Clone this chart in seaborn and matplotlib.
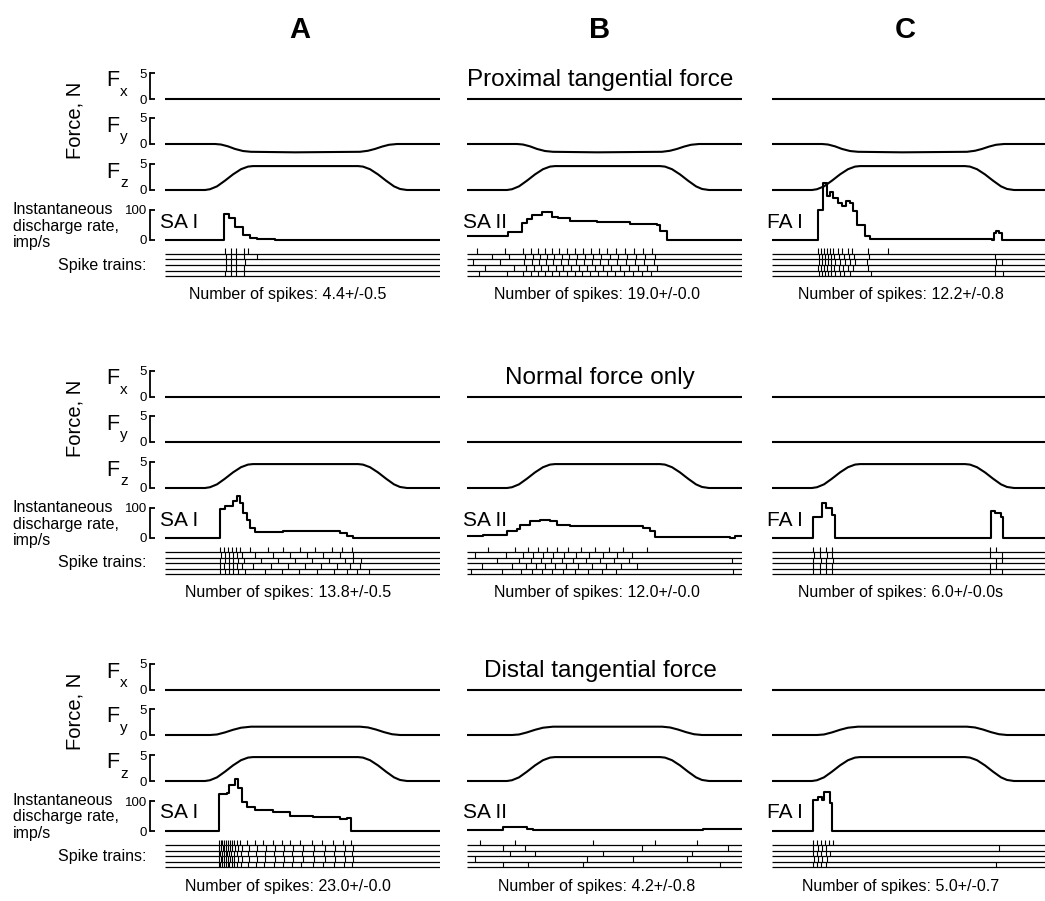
import matplotlib
matplotlib.use('Agg')
import matplotlib.pyplot as plt
import seaborn as sns

W, H = 1045, 901

COLUMNS = ['A', 'B', 'C']
CONDITIONS = ['Proximal tangential force', 'Normal force only', 'Distal tangential force']
UNITS = ['SA I', 'SA II', 'FA I']
SPIKE_COUNTS = [['4.4+/-0.5', '19.0+/-0.0', '12.2+/-0.8'],
                ['13.8+/-0.5', '12.0+/-0.0', '6.0+/-0.0s'],
                ['23.0+/-0.0', '4.2+/-0.8', '5.0+/-0.7']]

# force traces, N against time (ms)
FLAT_T = [0, 2750]
FLAT = [0, 0]
FZ_T = [0, 400, 450, 520, 600, 680, 760, 830, 880, 1930, 1980, 2050, 2130, 2210, 2290, 2350, 2420, 2750]
FZ = [0, 0, 0.15, 0.7, 1.8, 3.0, 4.0, 4.5, 4.6, 4.6, 4.5, 4.0, 3.0, 1.8, 0.7, 0.2, 0, 0]
FY_PROX_T = [0, 500, 560, 630, 700, 780, 860, 1300, 1950, 2030, 2100, 2170, 2240, 2320, 2750]
FY_PROX = [0, 0, -0.1, -0.45, -0.95, -1.35, -1.5, -1.6, -1.5, -1.3, -0.95, -0.5, -0.15, 0, 0]
FY_DIST_T = [0, 450, 520, 600, 680, 760, 860, 1950, 2030, 2110, 2190, 2270, 2350, 2750]
FY_DIST = [0, 0, 0.1, 0.5, 1.0, 1.4, 1.6, 1.6, 1.45, 1.05, 0.55, 0.15, 0, 0]

# instantaneous discharge rate, imp/s (step traces)
RATE_A1_T = [0, 590, 640, 700, 780, 850, 920, 1100, 2750]
RATE_A1 = [0, 87, 73, 43, 17, 7, 3, 0, 0]
RATE_B1_T = [0, 410, 550, 600, 650, 750, 850, 910, 1030, 1300, 1630, 1900, 1930, 2000, 2750]
RATE_B1 = [12, 27, 57, 70, 83, 92, 78, 72, 62, 60, 55, 50, 30, 0, 0]
RATE_C1_T = [0, 460, 510, 550, 580, 610, 660, 700, 740, 780, 810, 850, 930, 980, 2200, 2220, 2240, 2270, 2300, 2750]
RATE_C1 = [0, 100, 189, 146, 160, 139, 122, 112, 130, 122, 96, 49, 12, 2, 0, 22, 30, 25, 0, 0]

RATE_A2_T = [0, 550, 600, 680, 720, 750, 780, 820, 850, 900, 1080, 1180, 1750, 1820, 1880, 2750]
RATE_A2 = [0, 97, 107, 122, 141, 118, 84, 61, 34, 20, 20, 22, 17, 8, 0, 0]
RATE_B2_T = [0, 160, 400, 500, 530, 630, 730, 830, 900, 1030, 1760, 1830, 1880, 2630, 2680, 2750]
RATE_B2 = [6, 10, 22, 31, 44, 56, 59, 56, 44, 39, 33, 22, 2, 0, 8, 8]
RATE_C2_T = [0, 410, 500, 540, 600, 630, 2190, 2230, 2290, 2310, 2750]
RATE_C2 = [0, 69, 117, 100, 78, 0, 91, 83, 70, 0, 0]

RATE_A3_T = [0, 540, 620, 640, 700, 730, 770, 820, 900, 1080, 1250, 1480, 1750, 1820, 1860, 2750]
RATE_A3 = [0, 123, 127, 153, 172, 142, 98, 81, 70, 65, 50, 46, 39, 42, 0, 0]
RATE_B3_T = [0, 360, 460, 600, 660, 2230, 2360, 2750]
RATE_B3 = [4, 12, 15, 7, 2, 5, 8, 8]
RATE_C3_T = [0, 410, 460, 500, 520, 580, 600, 2750]
RATE_C3 = [0, 103, 114, 105, 131, 95, 0, 0]

# spike times (ms), five trials per panel, top trial first
SPIKES_A1 = [[600, 655, 705, 790, 830],
             [605, 657, 707, 793, 920],
             [607, 658, 708, 795],
             [606, 656, 706, 792],
             [604, 657, 707, 794]]
SPIKES_B1 = [[100, 380, 560, 640, 710, 780, 850, 920, 1000, 1080, 1160, 1240, 1320, 1400, 1490, 1580, 1670, 1760, 1850],
             [250, 420, 580, 660, 730, 800, 870, 950, 1020, 1100, 1180, 1260, 1340, 1430, 1510, 1600, 1690, 1780, 1880],
             [60, 330, 570, 650, 720, 790, 860, 940, 1010, 1090, 1170, 1250, 1330, 1410, 1500, 1590, 1680, 1770, 1870],
             [180, 470, 590, 670, 740, 810, 890, 960, 1040, 1120, 1200, 1280, 1360, 1440, 1530, 1620, 1710, 1800, 1900],
             [120, 400, 555, 635, 705, 775, 845, 915, 995, 1075, 1150, 1230, 1310, 1395, 1480, 1570, 1660, 1750, 1840]]
SPIKES_C1 = [[460, 490, 520, 550, 580, 610, 660, 700, 760, 800, 960, 1160],
             [465, 495, 525, 555, 585, 620, 670, 720, 770, 820, 970, 2230],
             [470, 500, 530, 560, 590, 630, 680, 730, 780, 830, 950, 2240, 2300],
             [460, 490, 520, 550, 585, 615, 665, 710, 760, 810, 960, 2230],
             [465, 495, 525, 560, 590, 625, 675, 720, 775, 990, 2230, 2310]]

SPIKES_A2 = [[550, 590, 630, 670, 710, 750, 850, 1030, 1180, 1350, 1500, 1670, 1770, 1870],
             [555, 595, 640, 680, 720, 770, 900, 1080, 1250, 1420, 1580, 1750, 1880],
             [552, 598, 642, 684, 726, 790, 960, 1130, 1300, 1470, 1640, 1800, 1880, 1960],
             [548, 592, 636, 678, 720, 765, 880, 1060, 1230, 1400, 1560, 1720, 1850, 1950],
             [553, 596, 638, 682, 730, 800, 1000, 1170, 1340, 1520, 1690, 1820, 1920, 2040]]
SPIKES_B2 = [[210, 480, 610, 710, 800, 900, 1010, 1140, 1280, 1420, 1560, 1800],
             [80, 390, 560, 660, 760, 860, 970, 1090, 1220, 1360, 1500, 1650],
             [300, 520, 640, 740, 840, 950, 1060, 1190, 1330, 1470, 1620, 2650],
             [150, 450, 590, 690, 780, 880, 990, 1110, 1250, 1390, 1540, 1700],
             [40, 350, 540, 650, 750, 850, 960, 1080, 1210, 1350, 1490, 2660]]
SPIKES_C2 = [[410, 480, 540, 600, 2180, 2240],
             [415, 480, 545, 600, 2180, 2300],
             [410, 485, 540, 605, 2240, 2300],
             [410, 480, 540, 600, 2180, 2240],
             [412, 482, 542, 602, 2180, 2300]]

SPIKES_A3 = [[540, 555, 572, 590, 608, 626, 645, 665, 690, 720, 750, 820, 900, 980, 1080, 1170, 1250, 1350, 1470, 1570, 1680, 1780, 1860],
             [542, 558, 575, 593, 611, 630, 650, 672, 698, 730, 770, 840, 920, 1010, 1100, 1190, 1280, 1380, 1490, 1600, 1700, 1800, 1880],
             [538, 553, 570, 588, 606, 624, 643, 663, 686, 715, 760, 830, 910, 995, 1090, 1180, 1270, 1370, 1480, 1590, 1690, 1790, 1870],
             [541, 557, 574, 592, 610, 628, 648, 669, 694, 725, 765, 835, 915, 1000, 1095, 1185, 1275, 1375, 1485, 1595, 1695, 1795, 1875],
             [539, 554, 571, 589, 607, 625, 644, 666, 692, 722, 755, 825, 905, 990, 1085, 1175, 1265, 1360, 1475, 1580, 1685, 1785, 1865]]
SPIKES_B3 = [[130, 480, 1260, 1880, 2300],
             [360, 580, 1750, 2610],
             [430, 680, 1360, 2250],
             [80, 1200, 1660, 2200],
             [360, 610, 1160, 2530]]
SPIKES_C3 = [[410, 450, 490, 530, 570, 610],
             [412, 455, 495, 540, 2270],
             [410, 450, 492, 535, 580],
             [415, 460, 500, 545],
             [410, 452, 494, 540, 2240]]

FORCES = [[(FLAT_T, FLAT), (FY_PROX_T, FY_PROX), (FZ_T, FZ)],
          [(FLAT_T, FLAT), (FLAT_T, FLAT), (FZ_T, FZ)],
          [(FLAT_T, FLAT), (FY_DIST_T, FY_DIST), (FZ_T, FZ)]]
RATES = [[(RATE_A1_T, RATE_A1), (RATE_B1_T, RATE_B1), (RATE_C1_T, RATE_C1)],
         [(RATE_A2_T, RATE_A2), (RATE_B2_T, RATE_B2), (RATE_C2_T, RATE_C2)],
         [(RATE_A3_T, RATE_A3), (RATE_B3_T, RATE_B3), (RATE_C3_T, RATE_C3)]]
SPIKES = [[SPIKES_A1, SPIKES_B1, SPIKES_C1],
          [SPIKES_A2, SPIKES_B2, SPIKES_C2],
          [SPIKES_A3, SPIKES_B3, SPIKES_C3]]

# layout in pixels
X0 = [165, 467, 772]
TRACE_W = 275
BLOCK_DY = [0, 298, 591]
FORCE_BASE = [99, 144, 190]
RATE_BASE = 240
SPIKE_BASE = 276
COL_X = [300, 600, 905]
COUNT_X = [288, 597, 901]
UNIT_X = [160, 463, 767]

sns.set_theme(style='white')
plt.rcParams['font.family'] = ['Liberation Sans', 'DejaVu Sans']
plt.rcParams['text.color'] = 'black'

fig = plt.figure(figsize=(W / 100, H / 100), dpi=100)


def ftext(x, y, s, **kw):
    fig.text(x / W, 1 - y / H, s, color='black', **kw)


def trace_axes(x0, base, ppu, lo, hi):
    bottom = base - lo * ppu
    ax = fig.add_axes([x0 / W, 1 - bottom / H, TRACE_W / W, (hi - lo) * ppu / H])
    ax.set_xlim(0, 2750)
    ax.set_ylim(lo, hi)
    ax.set_facecolor('none')
    for s in ax.spines.values():
        s.set_visible(False)
    ax.set_xticks([])
    ax.set_yticks([])
    return ax


def bracket(ax, top, labels):
    sp = ax.spines['left']
    sp.set_visible(True)
    sp.set_bounds(0, top)
    sp.set_position(('outward', 11))
    sp.set_linewidth(1.3)
    sp.set_color('black')
    ax.set_yticks([0, top])
    ax.set_yticklabels(labels)
    ax.tick_params(axis='y', direction='in', length=3.5, width=1.3, labelsize=9.5,
                   pad=2, left=True, labelleft=True, colors='black')


for c, name in enumerate(COLUMNS):
    ftext(COL_X[c], 30, name, fontsize=21, fontweight='bold', ha='center', va='center')

for b in range(3):
    dy = BLOCK_DY[b]
    ftext(600, 80 + dy, CONDITIONS[b], fontsize=17.5, ha='center', va='center')

    # left-hand labels
    ftext(75, 120 + dy, 'Force, N', fontsize=14.5, rotation=90, ha='center', va='center')
    for k, sub in enumerate(['x', 'y', 'z']):
        ftext(106, FORCE_BASE[k] + dy - 18, 'F', fontsize=15.5, ha='left', va='center')
        ftext(120, FORCE_BASE[k] + dy - 7, sub, fontsize=11, ha='left', va='center')
    ftext(13, 226 + dy, 'Instantaneous\ndischarge rate,\nimp/s', fontsize=11.5,
          ha='left', va='center', linespacing=1.1)
    ftext(147, 265 + dy, 'Spike trains:', fontsize=11.5, ha='right', va='center')

    for c in range(3):
        x0 = X0[c]
        for k, (tt, vv) in enumerate(FORCES[b]):
            ax = trace_axes(x0, FORCE_BASE[k] + dy, 5.2, -2.5, 5.5)
            sns.lineplot(x=tt, y=vv, ax=ax, color='black', lw=1.5, estimator=None)
            if c == 0:
                bracket(ax, 5, ['0', '5'])

        tt, vv = RATES[b][c]
        ax = trace_axes(x0, RATE_BASE + dy, 0.3, -15, 200)
        sns.lineplot(x=tt, y=vv, ax=ax, color='black', lw=1.5, estimator=None,
                     drawstyle='steps-post')
        if c == 0:
            bracket(ax, 100, ['0', '100'])
        ftext(UNIT_X[c], 222 + dy, UNITS[c], fontsize=15, ha='left', va='center')

        trials = SPIKES[b][c]
        ax = trace_axes(x0, SPIKE_BASE + dy, 5.5, -0.4, 5.2)
        levels = [4 - i for i in range(len(trials))]
        ax.hlines(levels, 0, 2750, color='black', lw=0.9)
        ax.eventplot(trials, lineoffsets=[v + 0.5 for v in levels], linelengths=1.0,
                     colors='black', linewidths=0.8)
        ax.set_xlim(0, 2750)
        ax.set_ylim(-0.4, 5.2)
        ax.set_xticks([])
        ax.set_yticks([])

        ftext(COUNT_X[c], 295 + dy, 'Number of spikes: ' + SPIKE_COUNTS[b][c],
              fontsize=11.5, ha='center', va='center')

fig.savefig('out.png', dpi=100)
